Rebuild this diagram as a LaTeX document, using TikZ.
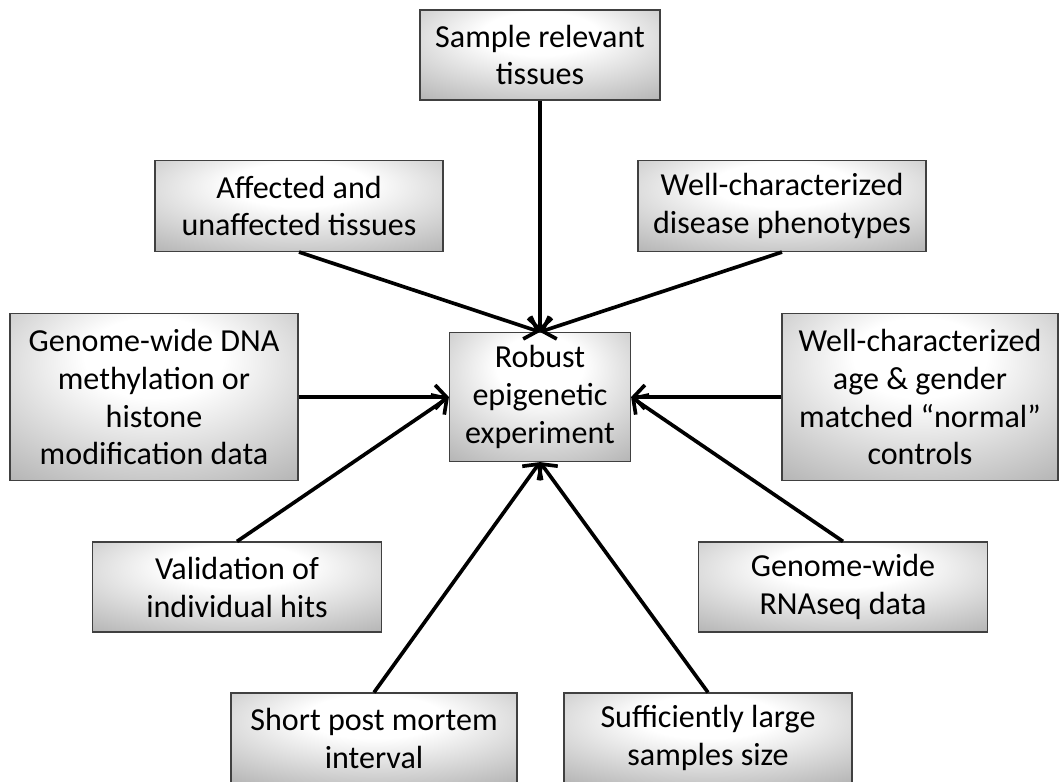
\documentclass[tikz,border=0pt]{standalone}
\usepackage{fontspec}
\setmainfont{Carlito}
\usetikzlibrary{arrows.meta}
\pgfdeclareradialshading{glow}{\pgfpoint{0bp}{14bp}}{color(0bp)=(white); color(12bp)=(white); color(45bp)=(black!34); color(60bp)=(black!50); color(75bp)=(black!56)}

\begin{document}
\begin{tikzpicture}[x=0.025cm, y=-0.025cm,
        box/.style={rectangle, draw=black!75, line width=0.8pt, shading=glow,
            align=center, inner sep=0pt, font=\fontsize{22.8}{27}\selectfont},
        link/.style={line width=2.6pt, -{Straight Barb[length=8pt, width=17pt]}}]
        \useasboundingbox (0,0) rectangle (1062,781);

        % Nodes
        \node[box, minimum width=6cm, minimum height=2.25cm] (sample) at (540,55) {Sample relevant\\tissues};
        \node[box, minimum width=7.2cm, minimum height=2.275cm] (affected) at (299,206) {Affected and\\unaffected tissues};
        \node[box, minimum width=7.2cm, minimum height=2.275cm] (disease) at (782,206) {Well-characterized\\disease phenotypes};
        \node[box, minimum width=7.2cm, minimum height=4.175cm] (dnadata) at (154,397) {Genome-wide DNA\\methylation or\\histone\\modification data};
        \node[box, minimum width=4.525cm, minimum height=3.225cm] (robust) at (540,397) {Robust\\epigenetic\\experiment};
        \node[box, minimum width=6.9cm, minimum height=4.175cm] (controls) at (920,397) {Well-characterized\\age \& gender\\matched “normal”\\controls};
        \node[box, minimum width=7.225cm, minimum height=2.25cm] (validation) at (237,587) {Validation of\\individual hits};
        \node[box, minimum width=7.225cm, minimum height=2.25cm] (rnaseq) at (843,587) {Genome-wide\\RNAseq data};
        \node[box, minimum width=7.15cm, minimum height=2.25cm] (postmortem) at (374,738) {Short post mortem\\interval};
        \node[box, minimum width=7.2cm, minimum height=2.25cm] (samplesize) at (708,738) {Sufficiently large\\samples size};

        % Lines
        \draw[link] (sample) -- (robust);
        \draw[link] (affected.south) -- (robust.north);
        \draw[link] (disease.south) -- (robust.north);
        \draw[link] (dnadata) -- (robust);
        \draw[link] (controls) -- (robust);
        \draw[link] (validation.north) -- (robust.west);
        \draw[link] (rnaseq.north) -- (robust.east);
        \draw[link] (postmortem.north) -- (robust.south);
        \draw[link] (samplesize.north) -- (robust.south);
    \end{tikzpicture}
\end{document}
